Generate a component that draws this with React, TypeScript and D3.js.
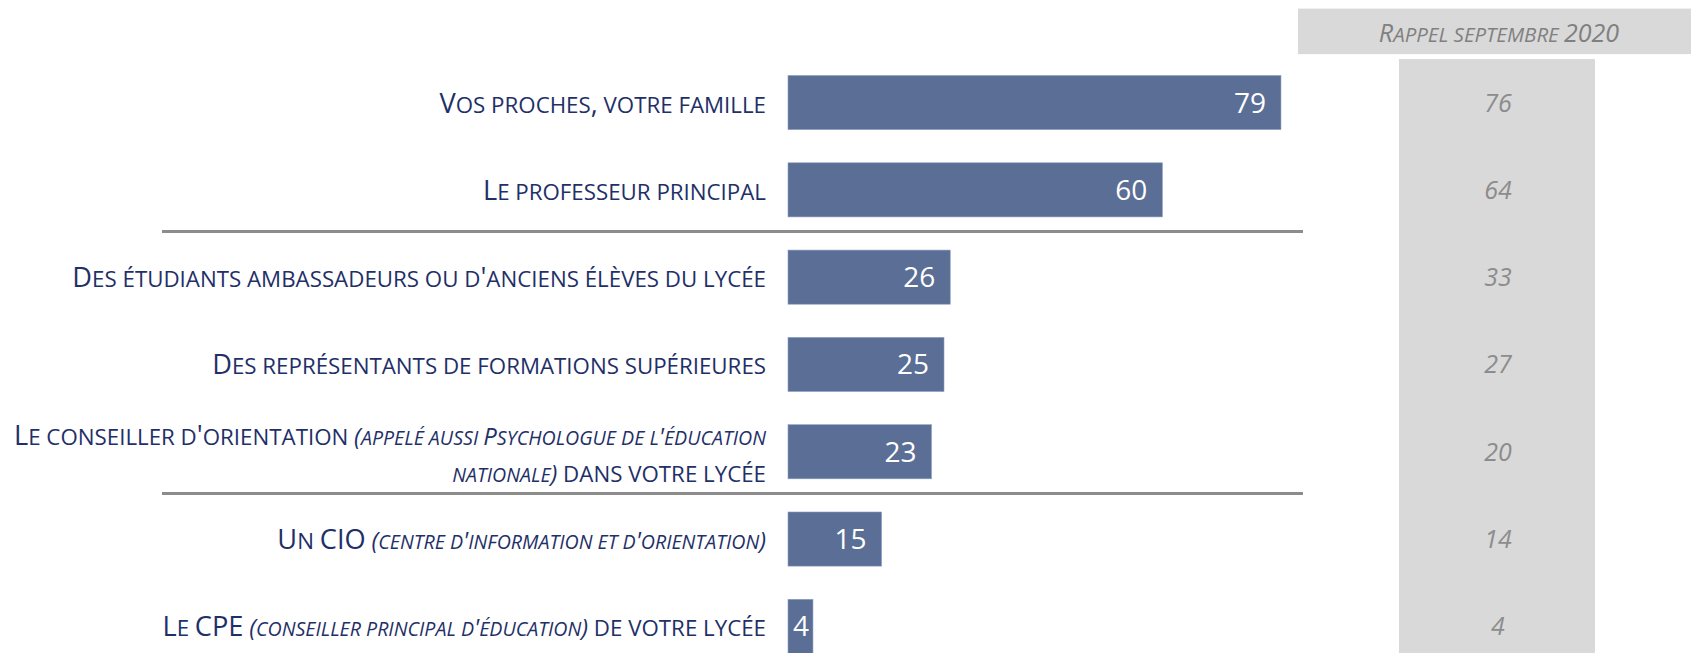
import { scaleBand, scaleLinear } from "d3";

// Rows, top to bottom. Each label is a list of lines; each line a list of [text, italic] pieces.
const categories = ["proches", "prof", "etudiants", "representants", "conseiller", "cio", "cpe"];

const labels: [string, boolean][][][] = [
  [[["Vos proches, votre famille", false]]],
  [[["Le professeur principal", false]]],
  [[["Des étudiants ambassadeurs ou d'anciens élèves du lycée", false]]],
  [[["Des représentants de formations supérieures", false]]],
  [
    [["Le conseiller d'orientation ", false], ["(appelé aussi Psychologue de l'éducation", true]],
    [["nationale)", true], [" dans votre lycée", false]],
  ],
  [[["Un CIO ", false], ["(centre d'information et d'orientation)", true]]],
  [[["Le CPE ", false], ["(conseiller principal d'éducation)", true], [" de votre lycée", false]]],
];

const values2021 = [79, 60, 26, 25, 23, 15, 4];
const values2020 = [76, 64, 33, 27, 20, 14, 4];

// separators are drawn after these rows
const separatorsAfter = ["prof", "conseiller"];

const recallTitle = "Rappel septembre 2020";

const W = 1691;
const H = 653;
const FONT = "'Open Sans', 'Noto Sans', sans-serif";
const SC = 0.82; // small caps ratio

// split text into runs of real capitals and (upper-cased) lowercase letters
function smallCapsRuns(text: string) {
  const runs: { t: string; small: boolean }[] = [];
  for (const ch of text) {
    const small = ch !== ch.toUpperCase() || ch === " ";
    const last = runs[runs.length - 1];
    if (last && last.small === small) last.t += ch.toUpperCase();
    else runs.push({ t: ch.toUpperCase(), small });
  }
  return runs;
}

function SmallCaps(props: { pieces: [string, boolean][]; size: number; italicScale?: number }) {
  const { pieces, size, italicScale = 1 } = props;
  return (
    <>
      {pieces.flatMap(([t, it], k) => {
        const base = it ? size * italicScale : size;
        return smallCapsRuns(t).map((r, j) => (
          <tspan
            key={k + "-" + j}
            fontStyle={it ? "italic" : "normal"}
            fontSize={r.small ? base * SC : base}
          >
            {r.t}
          </tspan>
        ));
      })}
    </>
  );
}

export default function App() {
  const x = scaleLinear().domain([0, 100]).range([788, 788 + 624]);
  const y = scaleBand<string>()
    .domain(categories)
    .range([58.9, 58.9 + 7 * 87.3])
    .paddingInner(0.38)
    .paddingOuter(0.19);

  const labelRight = 766;
  const labelSize = 27.2;

  return (
    <svg
      width={W}
      height={H}
      style={{ position: "absolute", left: 0, top: 0, background: "white" }}
    >
      {/* recall column */}
      <rect x={1298} y={8.6} width={W - 1298} height={45.5} fill="#d9d9d9" />
      <text
        x={1499}
        y={41.5}
        textAnchor="middle"
        fontFamily={FONT}
        fontStyle="italic"
        fontSize={25}
        fill="#808080"
      >
        <SmallCaps pieces={[[recallTitle, true]]} size={25} />
      </text>
      <rect x={1399} y={59} width={196} height={H - 59} fill="#d9d9d9" />

      {/* separators */}
      {separatorsAfter.map((c) => {
        const sy = y(c)! + y.bandwidth() + (y.step() - y.bandwidth()) / 2 - 2;
        return <line key={c} x1={162} x2={1303} y1={sy} y2={sy} stroke="#8c8c8c" strokeWidth={3} />;
      })}

      {categories.map((c, i) => {
        const by = y(c)!;
        const bh = y.bandwidth();
        const cy = by + bh / 2;
        const x1 = x(values2021[i]);
        const lines = labels[i];
        const lineGap = 37;
        const shift = lines.length > 1 ? 2 : 0;
        return (
          <g key={c}>
            <rect x={x(0)} y={by} width={x1 - x(0)} height={bh} fill="#5a6e96" stroke="#8da0c4" strokeWidth={0.6} />
            <text
              x={Math.max(x1 - 15, x(0) + 21)}
              y={cy + 10}
              textAnchor="end"
              fontFamily={FONT}
              fontSize={28}
              fill="white"
            >
              {values2021[i]}
            </text>
            <text
              x={1498}
              y={cy + 9}
              textAnchor="middle"
              fontFamily={FONT}
              fontStyle="italic"
              fontSize={25}
              fill="#8c8c8c"
            >
              {values2020[i]}
            </text>
            {lines.map((line, li) => (
              <text
                key={li}
                x={labelRight}
                y={cy + 10 + shift + (li - (lines.length - 1) / 2) * lineGap}
                textAnchor="end"
                fontFamily={FONT}
                fontSize={labelSize}
                fill="#1f3068"
              >
                <SmallCaps pieces={line} size={labelSize} italicScale={0.88} />
              </text>
            ))}
          </g>
        );
      })}
    </svg>
  );
}
